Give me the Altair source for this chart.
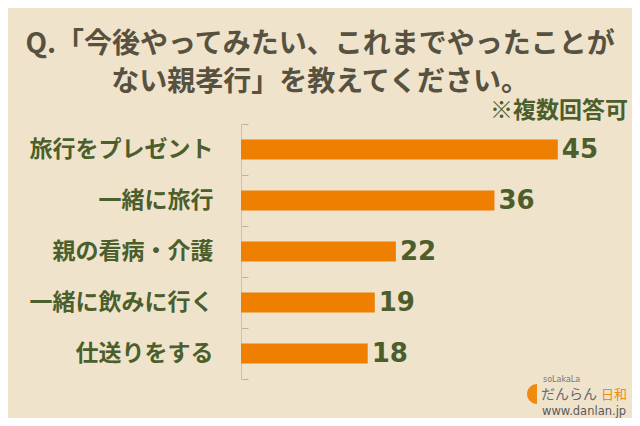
import altair as alt
import pandas as pd

categories = ["旅行をプレゼント", "一緒に旅行", "親の看病・介護", "一緒に飲みに行く", "仕送りをする"]
values = [45, 36, 22, 19, 18]

title_lines = ["Q.「今後やってみたい、これまでやったことが", "ない親孝行」を教えてください。"]
note_text = ["※複数回答可"]
logo_small = ["soLakaLa"]
logo_main = ["だんらん"]
logo_accent = ["日和"]
logo_url = ["www.danlan.jp"]

BG = "#EFE3CC"
ORANGE = "#EE7F00"
GREEN = "#4B5E2B"
TITLE_C = "#57513F"
JP = "Noto Sans CJK JP"

df = pd.DataFrame({"cat": categories, "v": values})

y_enc = alt.Y(
    "cat:N",
    sort=categories,
    scale=alt.Scale(paddingInner=0, paddingOuter=0),
    axis=alt.Axis(
        title=None,
        ticks=False,
        domainColor="#CBC2AF",
        domainWidth=1,
        grid=True,
        gridColor="#BDB4A0",
        gridWidth=1,
        gridDash=[7, 2000],
        tickBand="extent",
        labelFont=JP,
        labelFontWeight="bold",
        labelFontSize=23,
        labelColor=GREEN,
        labelPadding=28,
        labelLimit=400,
    ),
)
x_enc = alt.X("v:Q", scale=alt.Scale(domain=[0, 50]), axis=None)

base = alt.Chart(df).encode(y=y_enc, x=x_enc)
bars = base.mark_bar(color=ORANGE, height=20)
labels = base.mark_text(
    align="left", baseline="middle", dx=4,
    font="DejaVu Sans", fontWeight="bold", fontSize=26, color=GREEN,
).encode(text="v:Q")

def deco(texts, x, y, **kw):
    return alt.Chart(pd.DataFrame({"t": texts})).mark_text(**kw).encode(
        x=alt.value(x), y=alt.value(y), text="t:N"
    )

note = deco(note_text, 628 - 241, 111 - 124, align="right", baseline="middle",
            font=JP, fontWeight="bold", fontSize=23, color=GREEN)
l1 = deco(logo_small, 543 - 241, 380 - 124, align="left", baseline="middle",
          font="DejaVu Sans", fontSize=8, color="#777777")
l2 = deco(logo_main, 541 - 241, 395 - 124, align="left", baseline="middle",
          font=JP, fontSize=14, color="#6A6A6A")
l3 = deco(logo_accent, 601 - 241, 395 - 124, align="left", baseline="middle",
          font=JP, fontSize=13, color="#F08A10")
l4 = deco(logo_url, 542 - 241, 412 - 124, align="left", baseline="middle",
          font="DejaVu Sans", fontSize=11.5, color="#5A5A5A")
half = alt.Chart(pd.DataFrame({"t": ["o"]})).mark_point(
    shape="M0,-1A1,1 0 0,0 0,1Z", filled=True, opacity=1, color="#F08A10", size=400
).encode(x=alt.value(537 - 241), y=alt.value(394 - 124))

chart = alt.layer(bars, labels, note, l1, l2, l3, l4, half).properties(
    width=352,
    height=255,
    autosize=alt.AutoSizeParams(type="none"),
    padding={"left": 233, "top": 116, "right": 39, "bottom": 39},
    background=BG,
    title=alt.TitleParams(
        text=title_lines, font=JP, fontSize=28, fontWeight="bold", color=TITLE_C,
        anchor="middle", frame="group", dx=-97, offset=3, lineHeight=38,
    ),
).configure_view(strokeWidth=0)

chart.save("out.html", embed_options={"renderer": "svg", "actions": False})
